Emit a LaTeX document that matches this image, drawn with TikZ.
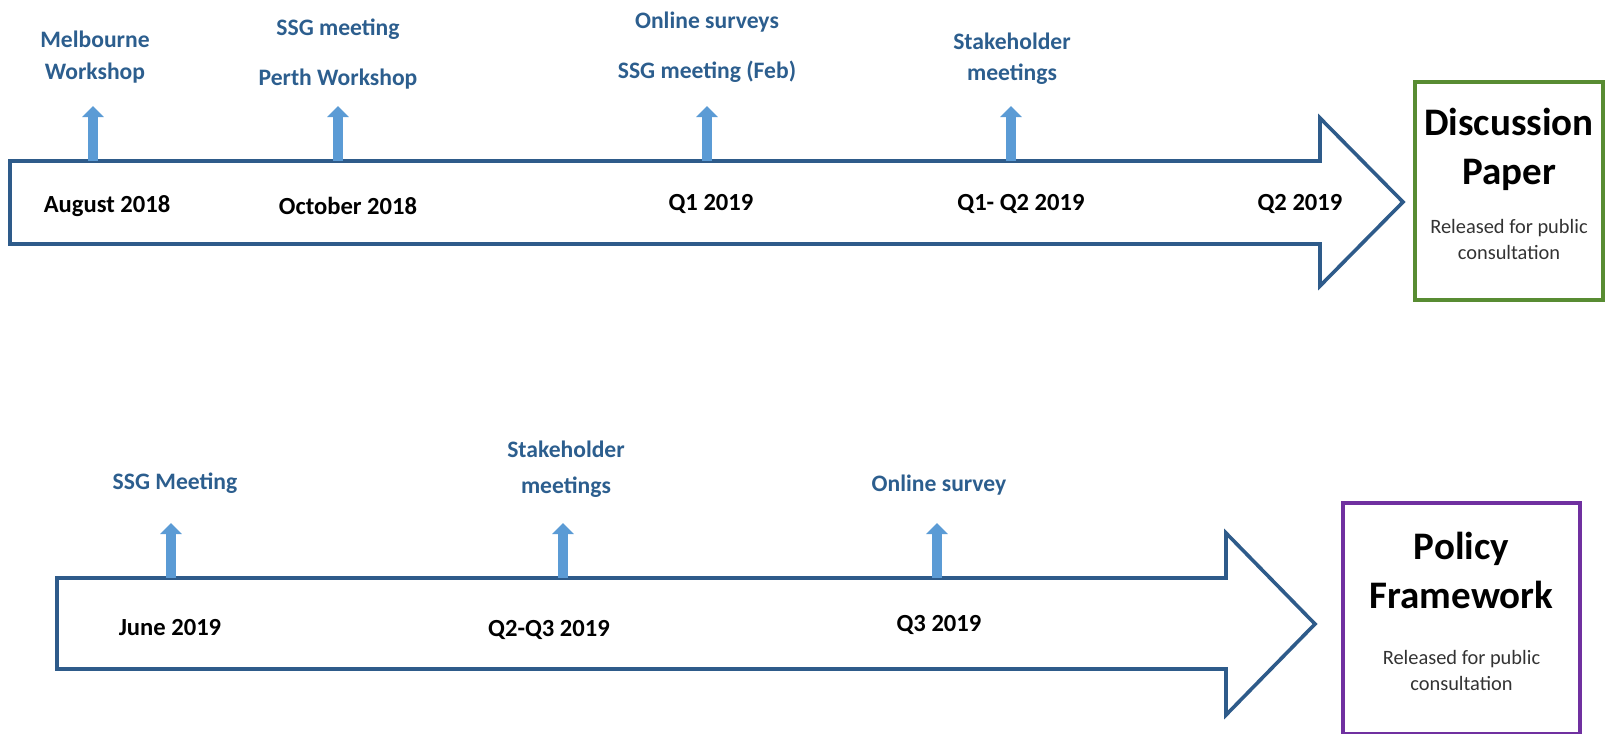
\documentclass[tikz,border=0pt]{standalone}
\usepackage{fontspec}
\setmainfont{Carlito}
\usetikzlibrary{positioning,arrows.meta}
\definecolor{lineblue}{RGB}{46,91,138}
\definecolor{textblue}{RGB}{44,94,142}
\definecolor{tickblue}{RGB}{91,155,213}
\definecolor{boxgreen}{RGB}{88,140,50}
\definecolor{boxpurple}{RGB}{112,48,160}

\begin{document}
\begin{tikzpicture}[
		x=0.5pt, y=-0.5pt,
		every node/.style={inner sep=0pt},
		event/.style={text=textblue, align=center, font=\bfseries\fontsize{11.8}{14}\selectfont},
		date/.style={anchor=base, font=\bfseries\fontsize{12.3}{14}\selectfont},
		timeline/.style={draw=lineblue, line width=1.8pt, fill=white},
		tick/.style={draw=tickblue, line width=4.8pt, -{Triangle[width=10.5pt,length=5.5pt]}},
		result/.style={rectangle, draw, line width=2pt},
		title/.style={align=center, font=\bfseries\fontsize{19.5}{24.5}\selectfont},
		note/.style={align=center, text=black!80, font=\fontsize{10.2}{13}\selectfont}
	]
	\useasboundingbox (0,0) rectangle (1614,734);

	% Timelines
	\draw[timeline] (10,161) -- (1320,161) -- (1320,118) -- (1403,202) -- (1320,286) -- (1320,244) -- (10,244) -- cycle;
	\draw[timeline] (57,578) -- (1226,578) -- (1226,533) -- (1315,624) -- (1226,715) -- (1226,669) -- (57,669) -- cycle;

	\coordinate (T1) at (93,161);
	\coordinate (T2) at (338,161);
	\coordinate (T3) at (707,161);
	\coordinate (T4) at (1011,161);
	\coordinate (B1) at (171,578);
	\coordinate (B2) at (563,578);
	\coordinate (B3) at (937,578);

	% Nodes
	\node[event] (E1) at (95,57) {Melbourne\\[2.3pt]Workshop};
	\node[event] (E2) at (338,54) {SSG meeting\\[10.8pt]Perth Workshop};
	\node[event] (E3) at (707,47) {Online surveys\\[10.8pt]SSG meeting (Feb)};
	\node[event] (E4) at (1012,59) {Stakeholder\\[1.3pt]meetings};
	\node[event] (F1) at (175,483) {SSG Meeting};
	\node[event] (F2) at (566,469) {Stakeholder\\[3.8pt]meetings};
	\node[event] (F3) at (939,485) {Online survey};

	\node[date] (D1) at (107,212) {August 2018};
	\node[date] (D2) at (348,214) {October 2018};
	\node[date] (D3) at (711,210) {Q1 2019};
	\node[date] (D4) at (1021,210) {Q1- Q2 2019};
	\node[date] (D5) at (1300,210) {Q2 2019};
	\node[date] (J1) at (170,635) {June 2019};
	\node[date] (J2) at (549,636) {Q2-Q3 2019};
	\node[date] (J3) at (939,631) {Q3 2019};

	\node[result, draw=boxgreen, minimum width=94pt, minimum height=109pt] (DP) at (1509,191) {};
	\node[title] (DPt) at (1509,149) {Discussion\\Paper};
	\node[note, below=14pt of DPt] (DPn) {Released for public\\consultation};

	\node[result, draw=boxpurple, minimum width=118.5pt, minimum height=115.5pt] (PF) at (1461.5,618.5) {};
	\node[title] (PFt) at (1461.5,570) {Policy\\Framework};
	\node[note, below=20.5pt of PFt] (PFn) {Released for public\\consultation};

	% Arrows
	\foreach \t in {T1,T2,T3,T4,B1,B2,B3}
		\draw[tick] (\t) -- ++(0,-55);

\end{tikzpicture}
\end{document}
